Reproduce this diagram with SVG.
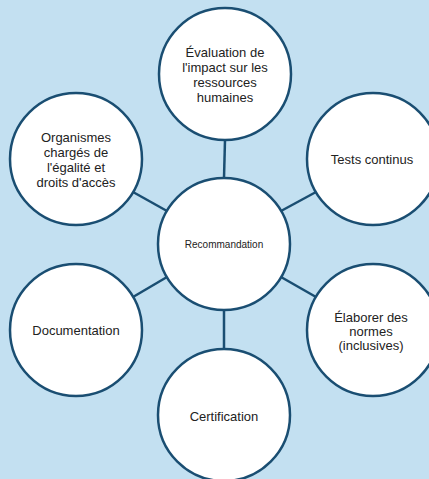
<svg xmlns="http://www.w3.org/2000/svg" width="429" height="479" viewBox="0 0 429 479">
<style>
.n{fill:#ffffff;stroke:#1a4e72;stroke-width:2.5}
.c line{stroke:#1a4e72;stroke-width:2.5}
text{font-family:"Liberation Sans",Arial,sans-serif;font-size:13px;fill:#222222;text-anchor:middle;dominant-baseline:central}
.s{font-size:10px}
</style>
<rect width="429" height="479" fill="#c3e0f1"/>
<g class="c" id="connectors">
<line x1="225" y1="140" x2="224" y2="178"/>
<line x1="133" y1="192" x2="167" y2="211"/>
<line x1="316" y1="192" x2="281" y2="211"/>
<line x1="133" y1="297" x2="167" y2="277"/>
<line x1="316" y1="297" x2="281" y2="277"/>
<line x1="224" y1="310" x2="224" y2="349"/>
</g>
<g id="center">
<circle class="n" cx="224" cy="244" r="66"/>
<text class="s" x="224" y="244">Recommandation</text>
</g>
<g id="top">
<circle class="n" cx="225" cy="74" r="66"/>
<text x="225" y="52">Évaluation de</text>
<text x="225" y="67">l'impact sur les</text>
<text x="225" y="82">ressources</text>
<text x="225" y="97">humaines</text>
</g>
<g id="topleft">
<circle class="n" cx="76" cy="159" r="66"/>
<text x="76" y="137">Organismes</text>
<text x="76" y="152">chargés de</text>
<text x="76" y="167">l'égalité et</text>
<text x="76" y="182">droits d'accès</text>
</g>
<g id="topright">
<circle class="n" cx="373" cy="159" r="66"/>
<text x="372" y="159">Tests continus</text>
</g>
<g id="bottomleft">
<circle class="n" cx="76" cy="330" r="66"/>
<text x="76" y="330">Documentation</text>
</g>
<g id="bottomright">
<circle class="n" cx="373" cy="330" r="66"/>
<text x="371" y="317">Élaborer des</text>
<text x="371" y="331">normes</text>
<text x="371" y="345">(inclusives)</text>
</g>
<g id="bottom">
<circle class="n" cx="224" cy="415" r="66"/>
<text x="224" y="416">Certification</text>
</g>
</svg>
